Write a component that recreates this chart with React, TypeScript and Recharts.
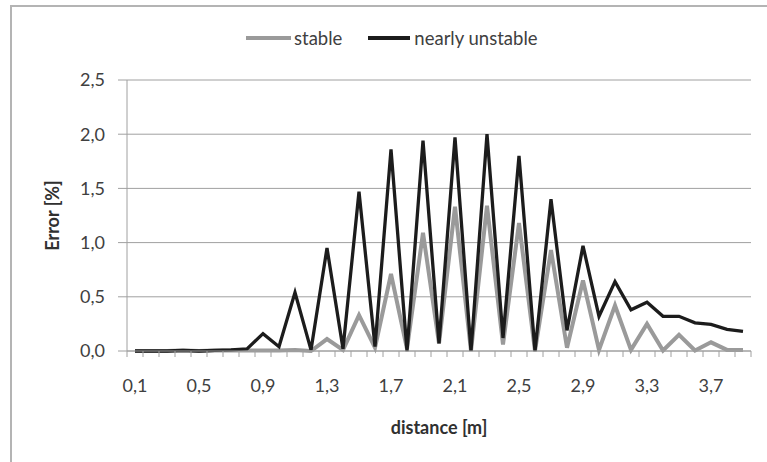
import { LineChart, Line, XAxis, YAxis, CartesianGrid } from 'recharts';

const distances = [
  '0,1', '0,2', '0,3', '0,4', '0,5', '0,6', '0,7', '0,8', '0,9', '1,0',
  '1,1', '1,2', '1,3', '1,4', '1,5', '1,6', '1,7', '1,8', '1,9', '2,0',
  '2,1', '2,2', '2,3', '2,4', '2,5', '2,6', '2,7', '2,8', '2,9', '3,0',
  '3,1', '3,2', '3,3', '3,4', '3,5', '3,6', '3,7', '3,8', '3,9',
];

const stable = [
  0, 0, 0, 0.005, 0, 0.005, 0.005, 0.005, 0.005, 0.005,
  0.01, 0, 0.11, 0.01, 0.33, 0.03, 0.71, 0.02, 1.09, 0.07,
  1.33, 0, 1.34, 0.06, 1.18, 0, 0.93, 0.03, 0.65, 0.01,
  0.42, 0.01, 0.25, 0.005, 0.15, 0.005, 0.08, 0.01, 0.01,
];

const nearlyUnstable = [
  0, 0, 0, 0.005, 0, 0.005, 0.01, 0.02, 0.16, 0.04,
  0.54, 0.01, 0.95, 0.02, 1.47, 0.04, 1.86, 0, 1.94, 0.07,
  1.97, 0, 2.0, 0.12, 1.8, 0, 1.4, 0.19, 0.97, 0.32,
  0.64, 0.38, 0.45, 0.32, 0.32, 0.26, 0.245, 0.2, 0.18,
];

const errorTicks = [0, 0.5, 1, 1.5, 2, 2.5];

const data = distances.map((d, i) => ({
  distance: d,
  stable: stable[i],
  nearlyUnstable: nearlyUnstable[i],
}));

const FONT = 'Lato, "Open Sans", sans-serif';
const AXIS = '#a0a0a0';
const TEXT = '#404040';

// tick marks sit between categories (Excel style), labels every 4th point
const DistanceTick = (props: any) => {
  const { x, y, payload, index } = props;
  const half = payload.offset || 0;
  const last = index === distances.length - 1;
  return (
    <g>
      <line x1={x - half} x2={x - half} y1={y} y2={y + 6} stroke={AXIS} />
      {last && <line x1={x + half} x2={x + half} y1={y} y2={y + 6} stroke={AXIS} />}
      {index % 4 === 0 && (
        <text x={x} y={y + 35} dy="0.35em" textAnchor="middle" fill={TEXT} fontSize={18} fontFamily={FONT}>
          {payload.value}
        </text>
      )}
    </g>
  );
};

export default function App() {
  return (
    <div style={{ position: 'fixed', left: 0, top: 0, width: 767, height: 462, overflow: 'hidden', background: '#fff' }}>
      <div
        style={{
          position: 'absolute', left: 10, top: 5, width: 820, height: 520,
          border: '2px solid #b4b4b4', boxSizing: 'border-box',
        }}
      />
      <div
        style={{
          position: 'absolute', left: 246, top: 28, display: 'flex', alignItems: 'center',
          fontFamily: FONT, fontSize: 18.5, color: TEXT, height: 20,
        }}
      >
        <span style={{ width: 45, height: 3.5, background: '#9a9a9a', marginRight: 3 }} />
        <span>stable</span>
        <span style={{ width: 42, height: 3.5, background: '#1c1c1c', marginLeft: 26, marginRight: 4 }} />
        <span>nearly unstable</span>
      </div>
      <LineChart
        width={767}
        height={462}
        data={data}
        margin={{ top: 80, right: 16, bottom: 0, left: 0 }}
        style={{ position: 'absolute', left: 0, top: 0, fontFamily: FONT }}
      >
        <CartesianGrid vertical={false} stroke={AXIS} />
        <XAxis
          dataKey="distance"
          scale="band"
          interval={0}
          height={111}
          tickLine={false}
          tickSize={0}
          tickMargin={0}
          axisLine={{ stroke: AXIS }}
          tick={<DistanceTick />}
          label={({ viewBox }: any) => (
            <text
              x={viewBox.x + viewBox.width / 2}
              y={viewBox.y + 77}
              dy="0.35em"
              textAnchor="middle"
              fontWeight="bold"
              fontSize={18}
              fill="#303030"
              fontFamily={FONT}
            >
              distance [m]
            </text>
          )}
        />
        <YAxis
          width={127}
          domain={[0, 2.5]}
          ticks={errorTicks}
          tickFormatter={(v: number) => v.toFixed(1).replace('.', ',')}
          tickSize={9}
          tickMargin={13}
          tick={{ fill: TEXT, fontSize: 18, fontFamily: FONT }}
          tickLine={{ stroke: AXIS }}
          axisLine={{ stroke: AXIS }}
          label={({ viewBox }: any) => {
            const cx = 53;
            const cy = viewBox.y + viewBox.height / 2;
            return (
              <text
                x={cx}
                y={cy}
                dy="0.35em"
                textAnchor="middle"
                transform={`rotate(-90, ${cx}, ${cy})`}
                fontWeight="bold"
                fontSize={18}
                fill="#303030"
                fontFamily={FONT}
              >
                Error [%]
              </text>
            );
          }}
        />
        <Line
          dataKey="stable"
          type="linear"
          stroke="#9a9a9a"
          strokeWidth={4}
          dot={false}
          isAnimationActive={false}
        />
        <Line
          dataKey="nearlyUnstable"
          type="linear"
          stroke="#1c1c1c"
          strokeWidth={3.3}
          dot={false}
          isAnimationActive={false}
        />
      </LineChart>
    </div>
  );
}
